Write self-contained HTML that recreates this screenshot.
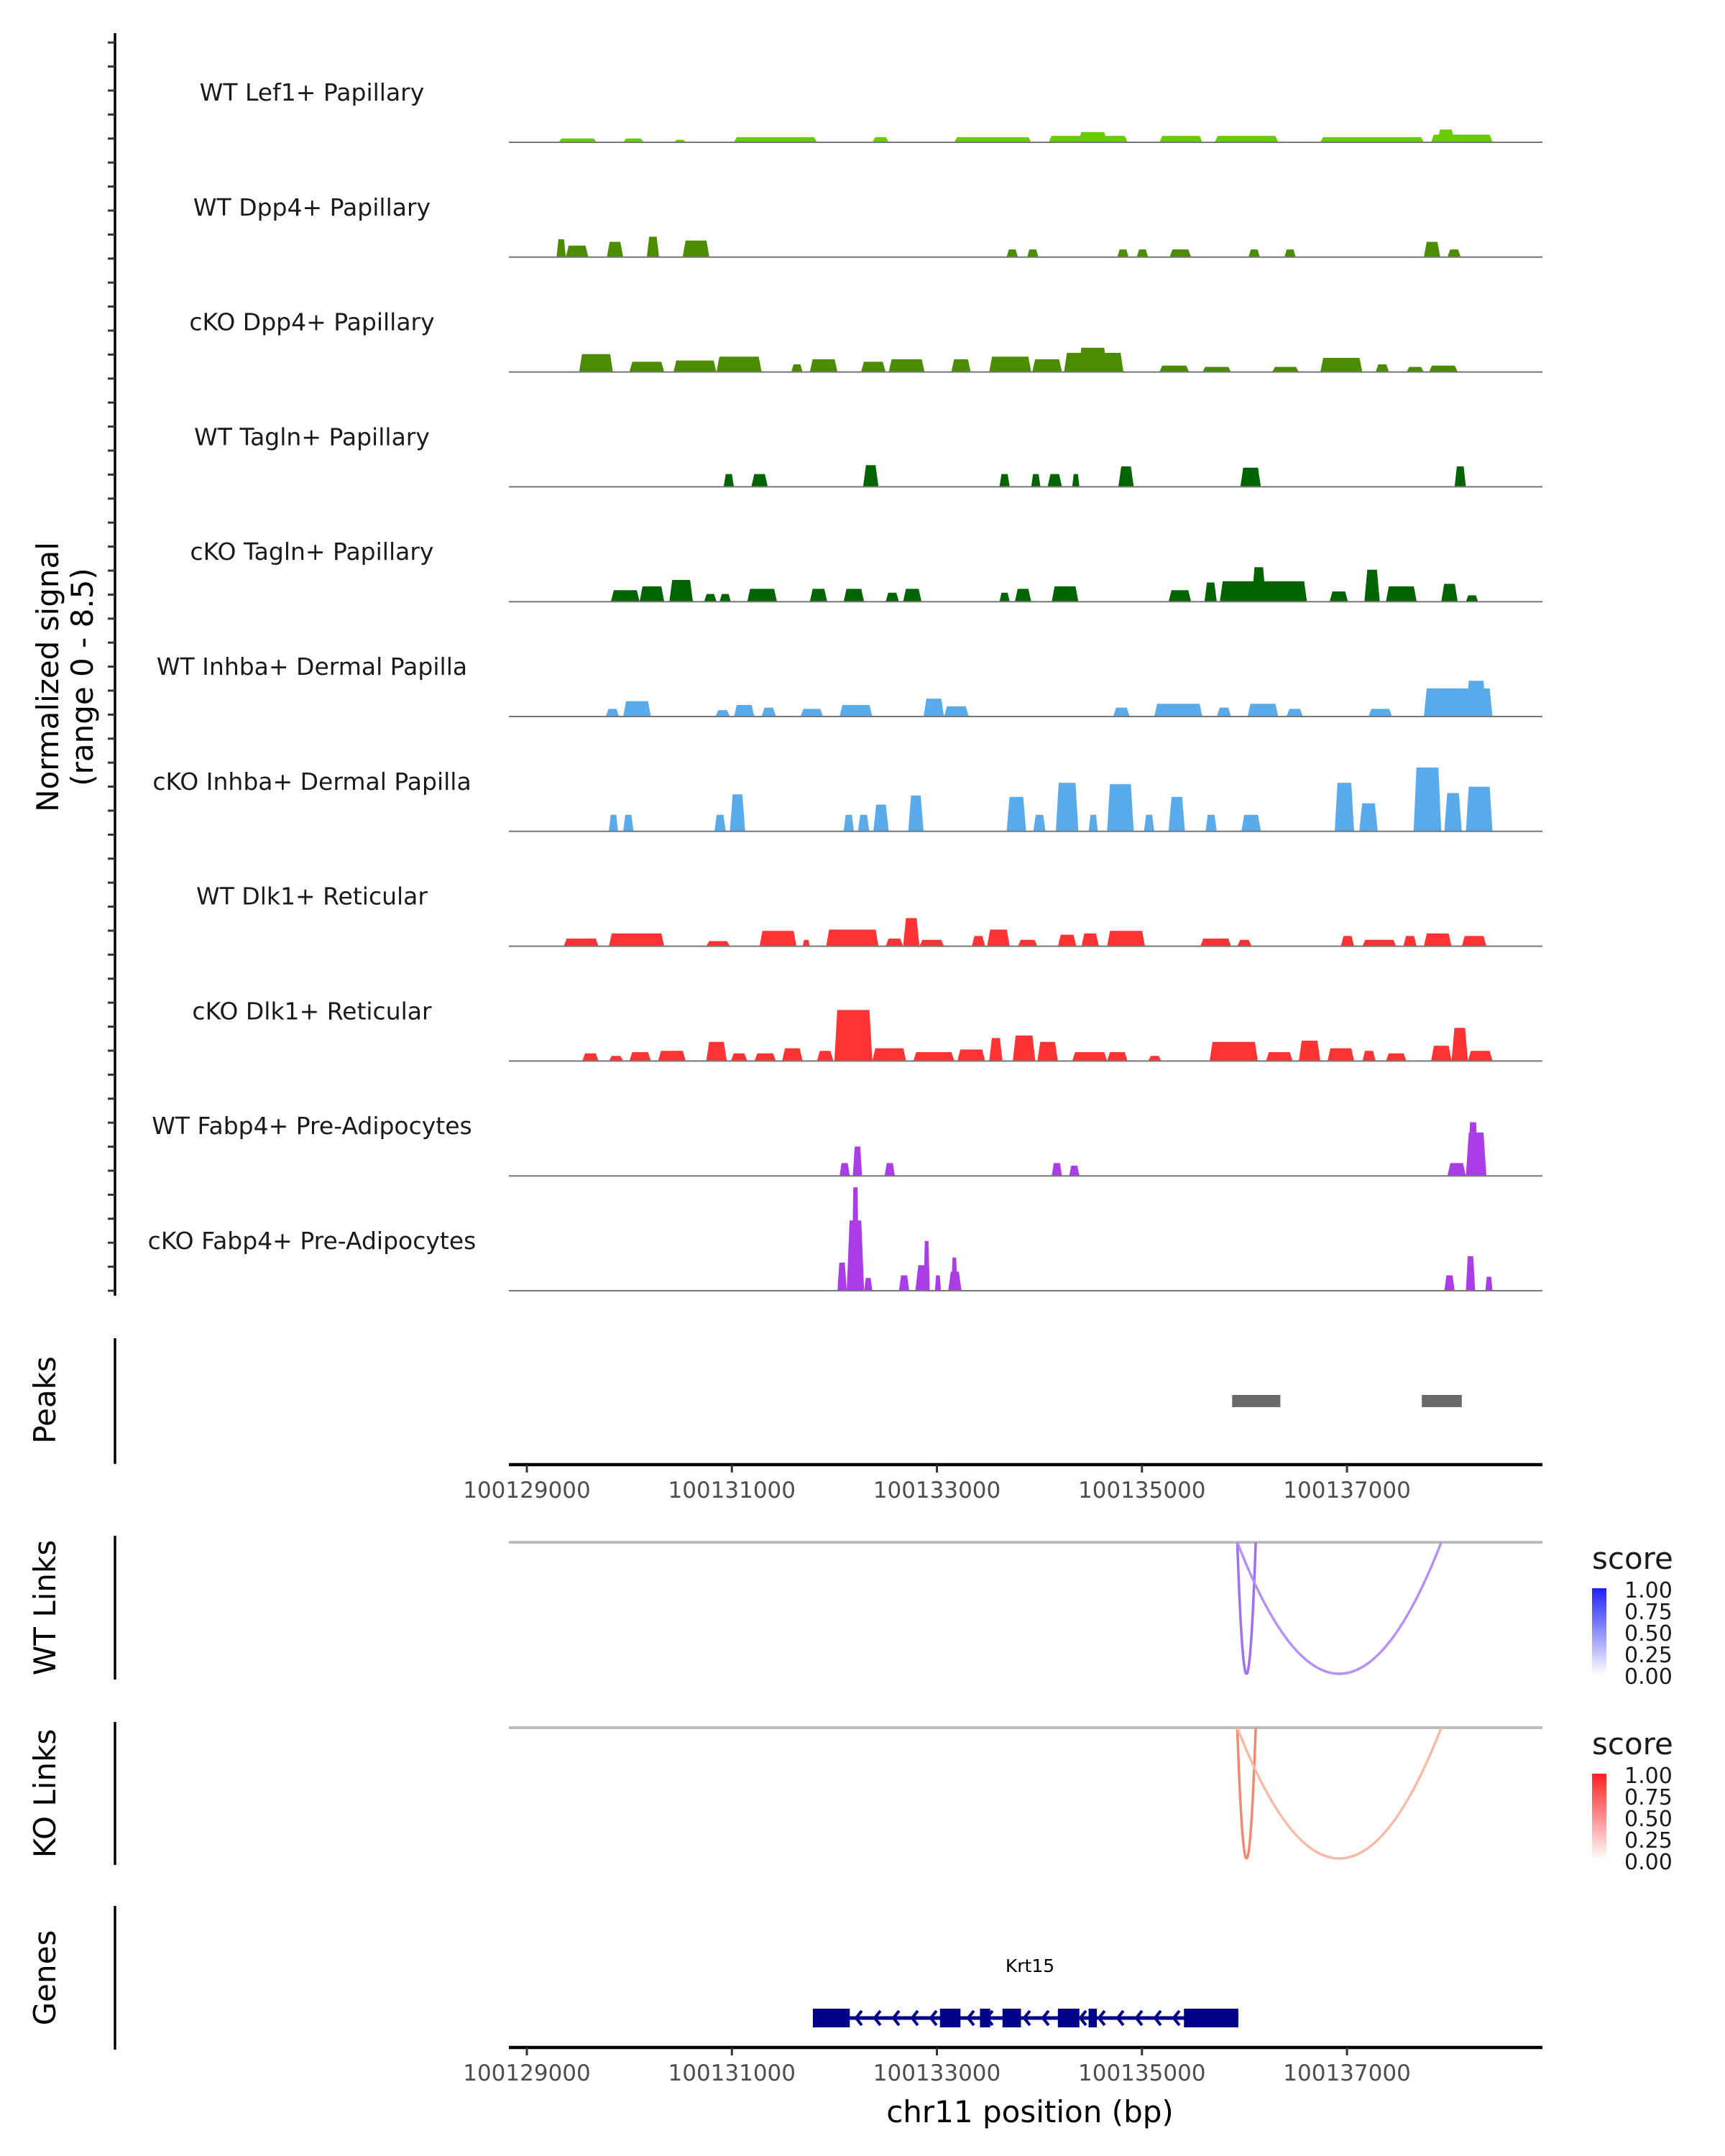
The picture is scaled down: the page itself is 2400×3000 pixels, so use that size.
<!DOCTYPE html>
<html><head><meta charset="utf-8"><style>
html,body{margin:0;padding:0;background:#fff;}
svg{display:block;font-family:"DejaVu Sans","Liberation Sans",sans-serif;}
</style></head><body>
<svg id="chart" width="2400" height="3000" viewBox="0 0 2400 3000" xmlns="http://www.w3.org/2000/svg"></svg>
<script>
// ---- data (genomic positions as kb offsets from regionStart) ----
const regionStart = 100129000;
const trackNames = ["WT Lef1+ Papillary","WT Dpp4+ Papillary","cKO Dpp4+ Papillary","WT Tagln+ Papillary","cKO Tagln+ Papillary","WT Inhba+ Dermal Papilla","cKO Inhba+ Dermal Papilla","WT Dlk1+ Reticular","cKO Dlk1+ Reticular","WT Fabp4+ Pre-Adipocytes","cKO Fabp4+ Pre-Adipocytes"];
const trackColors = ["#66cc00","#4c8c00","#4c8c00","#006400","#006400","#5aabec","#5aabec","#ff3333","#ff3333","#aa3de8","#aa3de8"];
const sigLef1WT = [[0.31,0.68,0.3],[0.94,1.14,0.3],[1.44,1.55,0.2],[2.02,2.83,0.4],[3.37,3.53,0.4],[4.17,4.92,0.4],[5.09,5.86,0.5],[5.38,5.66,0.8],[6.17,6.59,0.5],[6.71,7.33,0.5],[7.74,8.75,0.4],[8.82,9.42,0.6],[8.88,9.05,1.0]];
const sigDpp4WT = [[0.29,0.38,1.4],[0.38,0.60,0.9],[0.78,0.94,1.2],[1.17,1.29,1.6],[1.52,1.78,1.3],[4.68,4.79,0.6],[4.88,4.99,0.6],[5.76,5.87,0.6],[5.95,6.06,0.6],[6.27,6.48,0.6],[7.04,7.15,0.6],[7.39,7.50,0.6],[8.75,8.91,1.2],[8.98,9.11,0.6]];
const sigDpp4KO = [[0.51,0.84,1.4],[1.00,1.34,0.8],[1.43,1.85,0.9],[1.85,2.29,1.2],[2.58,2.69,0.6],[2.76,3.03,1.0],[3.26,3.50,0.8],[3.53,3.88,1.0],[4.14,4.33,1.0],[4.51,4.92,1.2],[4.93,5.22,1.0],[5.24,5.82,1.5],[5.38,5.66,1.9],[6.17,6.46,0.5],[6.59,6.87,0.4],[7.27,7.53,0.4],[7.74,8.15,1.1],[8.28,8.41,0.6],[8.58,8.75,0.4],[8.80,9.08,0.5]];
const sigTaglnWT = [[1.92,2.02,1.0],[2.19,2.35,1.0],[3.28,3.43,1.7],[4.61,4.71,1.0],[4.92,5.01,1.0],[5.08,5.22,1.0],[5.32,5.39,1.0],[5.77,5.92,1.6],[6.96,7.16,1.5],[9.05,9.16,1.6]];
const sigTaglnKO = [[0.82,1.10,0.9],[1.10,1.34,1.2],[1.39,1.62,1.7],[1.73,1.85,0.6],[1.88,1.99,0.6],[2.15,2.44,1.0],[2.76,2.93,1.0],[3.09,3.29,1.0],[3.50,3.63,0.7],[3.67,3.85,1.0],[4.61,4.71,0.7],[4.76,4.92,1.0],[5.12,5.38,1.2],[6.26,6.48,0.9],[6.61,6.73,1.5],[6.76,7.61,1.6],[7.07,7.21,2.7],[7.83,8.01,0.8],[8.17,8.32,2.5],[8.38,8.68,1.2],[8.92,9.08,1.4],[9.16,9.28,0.5]];
const sigInhbaWT = [[0.77,0.90,0.6],[0.94,1.21,1.2],[1.84,1.98,0.5],[2.02,2.22,0.9],[2.29,2.43,0.7],[2.67,2.89,0.6],[3.05,3.37,0.9],[3.87,4.07,1.4],[4.07,4.31,0.8],[5.72,5.88,0.7],[6.12,6.59,1.0],[6.73,6.87,0.7],[7.03,7.33,1.0],[7.41,7.57,0.6],[8.21,8.44,0.6],[8.75,9.42,2.2],[9.16,9.36,2.8]];
const sigInhbaKO = [[0.80,0.89,1.3],[0.94,1.04,1.3],[1.83,1.94,1.3],[1.98,2.13,2.9],[3.09,3.19,1.3],[3.23,3.34,1.3],[3.38,3.53,2.1],[3.72,3.87,2.8],[4.68,4.87,2.7],[4.94,5.06,1.3],[5.16,5.38,3.8],[5.48,5.57,1.3],[5.66,5.92,3.7],[6.02,6.12,1.3],[6.26,6.42,2.7],[6.62,6.73,1.3],[6.97,7.16,1.3],[7.88,8.07,3.8],[8.12,8.30,2.2],[8.65,8.92,5.0],[8.95,9.12,3.0],[9.16,9.42,3.5]];
const sigDlk1WT = [[0.36,0.70,0.6],[0.80,1.34,1.0],[1.75,1.98,0.4],[2.27,2.63,1.2],[2.69,2.76,0.5],[2.92,3.43,1.3],[3.50,3.67,0.6],[3.67,3.83,2.2],[3.83,4.07,0.5],[4.34,4.47,0.8],[4.49,4.71,1.3],[4.79,4.98,0.5],[5.18,5.36,0.9],[5.41,5.58,1.0],[5.66,6.03,1.2],[6.57,6.87,0.6],[6.93,7.07,0.5],[7.94,8.07,0.8],[8.15,8.48,0.5],[8.55,8.68,0.8],[8.75,9.02,1.0],[9.12,9.36,0.8]];
const sigDlk1KO = [[0.54,0.70,0.6],[0.80,0.94,0.4],[1.00,1.21,0.7],[1.28,1.55,0.8],[1.75,1.95,1.5],[1.99,2.15,0.6],[2.22,2.43,0.6],[2.49,2.69,1.0],[2.83,2.99,0.8],[3.00,3.37,4.0],[3.37,3.70,1.0],[3.77,4.17,0.7],[4.20,4.47,0.9],[4.51,4.64,1.8],[4.74,4.96,2.0],[4.98,5.18,1.5],[5.32,5.66,0.7],[5.66,5.86,0.7],[6.06,6.19,0.4],[6.66,7.13,1.5],[7.21,7.47,0.7],[7.53,7.74,1.6],[7.81,8.07,1.0],[8.15,8.28,0.8],[8.38,8.58,0.6],[8.82,9.02,1.2],[9.02,9.18,2.6],[9.18,9.42,0.8]];
const sigFabp4WT = [[3.05,3.15,1.0],[3.18,3.27,2.3],[3.49,3.59,1.0],[5.12,5.22,1.0],[5.29,5.39,0.8],[8.98,9.16,1.0],[9.16,9.36,3.4],[9.18,9.28,4.2]];
const sigFabp4KO = [[3.03,3.12,2.2],[3.12,3.29,5.5],[3.17,3.24,8.1],[3.29,3.37,1.0],[3.63,3.73,1.2],[3.79,3.93,2.0],[3.87,3.93,3.9],[3.98,4.04,1.2],[4.11,4.24,1.5],[4.14,4.20,2.6],[8.95,9.05,1.2],[9.16,9.25,2.7],[9.35,9.42,1.1]];
const trackSignals = [sigLef1WT,sigDpp4WT,sigDpp4KO,sigTaglnWT,sigTaglnKO,sigInhbaWT,sigInhbaKO,sigDlk1WT,sigDlk1KO,sigFabp4WT,sigFabp4KO];
const peakRanges = [[6.88,7.35],[8.73,9.12]];
const wtLinks = [[6.93,7.11,0.35],[6.93,8.92,0.3]];
const koLinks = [[6.93,7.11,0.45],[6.93,8.92,0.3]];
const geneExons = [[2.79,3.15],[4.03,4.23],[4.42,4.52],[4.64,4.82],[5.18,5.39],[5.48,5.56],[6.41,6.94]];
const geneSpan = [2.79,6.94];
const xTicks = [100129000,100131000,100133000,100135000,100137000];
const legendTicks = ["1.00","0.75","0.50","0.25","0.00"];
const signalMax = 8.5;

// ---- scales ----
const X0=733, PXKB=142.63;
function xs(kb){return X0+kb*PXKB;}
function xbp(bp){return xs((bp-regionStart)/1000);}
const trackStep=159.8, trackHeightPx=151;
function ys(v,base){return base - v/signalMax*trackHeightPx;}
const PL=708, PR=2146;

const svg=document.getElementById('chart');
const NS='http://www.w3.org/2000/svg';
function mk(tag,attrs,parent){const e=document.createElementNS(NS,tag);for(const k in attrs)e.setAttribute(k,attrs[k]);(parent||svg).appendChild(e);return e;}
function txt(s,attrs,parent){const e=mk('text',attrs,parent);e.textContent=s;return e;}

let ax=mk('line',{x1:160,y1:46,x2:160,y2:1803,stroke:'#000','stroke-width':3.5});


for(let y=1796;y>=55;y-=33.4){mk('line',{x1:150,y1:y,x2:160,y2:y,stroke:'#333','stroke-width':3});}
let yt=txt('Normalized signal',{x:0,y:0,'font-size':42,'text-anchor':'middle',transform:'translate(81,942) rotate(-90)'});


let yt2=txt('(range 0 - 8.5)',{x:0,y:0,'font-size':42,'text-anchor':'middle',transform:'translate(129,942) rotate(-90)'});



trackNames.forEach((name,i)=>{
  const base=198+i*trackStep;
  const g=mk('g',{});
  
  
  const lab=txt(name,{x:434,y:base-58,'font-size':33,'text-anchor':'middle',fill:'#1a1a1a'},g);
  
  
  trackSignals[i].forEach(p=>{
    const x1=xs(p[0]),x2=xs(p[1]),yt=ys(p[2],base),w=x2-x1,r=Math.min(w*0.2,4);
    const poly=mk('polygon',{points:`${x1},${base} ${x1+r},${yt} ${x2-r},${yt} ${x2},${base}`,fill:trackColors[i]},g);
    
    
  });
  mk('line',{x1:PL,y1:base,x2:PR,y2:base,stroke:'#777','stroke-width':2},g);
});

mk('line',{x1:160,y1:1862,x2:160,y2:2037,stroke:'#000','stroke-width':3.5});
txt('Peaks',{x:0,y:0,'font-size':42,'text-anchor':'middle',transform:'translate(77,1948) rotate(-90)'});
peakRanges.forEach(p=>{
  const r=mk('rect',{x:xs(p[0]),y:1941,width:xs(p[1])-xs(p[0]),height:17,fill:'#6a6a6a'});
  
  
});
function xAxis(y,name){
  const g=mk('g',{});
  
  
  mk('line',{x1:PL,y1:y,x2:PR,y2:y,stroke:'#000','stroke-width':4.5},g);
  xTicks.forEach(t=>{const x=xbp(t);mk('line',{x1:x,y1:y,x2:x,y2:y+11,stroke:'#333','stroke-width':3},g);
    txt(String(t),{x:x,y:y+46,'font-size':31,'text-anchor':'middle',fill:'#4d4d4d'},g);});
}
xAxis(2038,'x-axis-top');

function linksPanel(top,bottom,axTop,axBot,label,links,scoreCol,lightCol,hiCol,legendTop){
  mk('line',{x1:160,y1:axTop,x2:160,y2:axBot,stroke:'#000','stroke-width':3.5});
  txt(label,{x:0,y:0,'font-size':42,'text-anchor':'middle',transform:`translate(77,${(axTop+axBot)/2}) rotate(-90)`});
  mk('line',{x1:PL,y1:top,x2:PR,y2:top,stroke:'#bdbdbd','stroke-width':4});
  links.forEach((l,j)=>{
    const x1=xs(l[0]),x2=xs(l[1]),y0=top,d=(bottom-y0)*2;
    const col=j===0?scoreCol:lightCol;
    const p=mk('path',{d:`M${x1},${y0} Q${(x1+x2)/2},${y0+d} ${x2},${y0}`,fill:'none',stroke:col,'stroke-width':3.5});
    
    
  });
  const g=mk('g',{});
  
  
  txt('score',{x:2215,y:legendTop+14,'font-size':42,fill:'#1a1a1a'},g);
  const gid='grad'+top;
  const defs=mk('defs',{},g);const lg=mk('linearGradient',{id:gid,x1:0,y1:0,x2:0,y2:1},defs);
  mk('stop',{offset:0,'stop-color':hiCol},lg);mk('stop',{offset:1,'stop-color':'#ffffff'},lg);
  mk('rect',{x:2215,y:legendTop+41,width:20,height:121,fill:`url(#${gid})`},g);
  legendTicks.forEach((t,k)=>{txt(t,{x:2260,y:legendTop+54+k*30,'font-size':30,fill:'#1a1a1a'},g);});
}
linksPanel(2146,2329,2137,2337,'WT Links',wtLinks,'#a070f0','#b690f6','#2020ff',2169);
linksPanel(2404,2586,2396,2595,'KO Links',koLinks,'#f08a72','#f8baa6','#ff2020',2427);

mk('line',{x1:160,y1:2652,x2:160,y2:2852,stroke:'#000','stroke-width':3.5});
txt('Genes',{x:0,y:0,'font-size':42,'text-anchor':'middle',transform:'translate(77,2752) rotate(-90)'});
const gg=mk('g',{});


txt('Krt15',{x:1433,y:2744,'font-size':25,'text-anchor':'middle',fill:'#000'},gg);
mk('line',{x1:xs(geneSpan[0]),y1:2808,x2:xs(geneSpan[1]),y2:2808,stroke:'#00008b','stroke-width':5},gg);
for(let x=xs(geneSpan[0])+60;x<xs(geneSpan[1])-80;x+=26){
  mk('polyline',{points:`${x+8},${2798} ${x},${2808} ${x+8},${2818}`,fill:'none',stroke:'#00008b','stroke-width':4},gg);
}
geneExons.forEach(e=>{
  const r=mk('rect',{x:xs(e[0]),y:2795,width:xs(e[1])-xs(e[0]),height:26,fill:'#00008b'},gg);
  
  
});
xAxis(2849,'x-axis-bottom');
let xt=txt('chr11 position (bp)',{x:1433,y:2953,'font-size':42,'text-anchor':'middle',fill:'#000'});


</script>
</body></html>
